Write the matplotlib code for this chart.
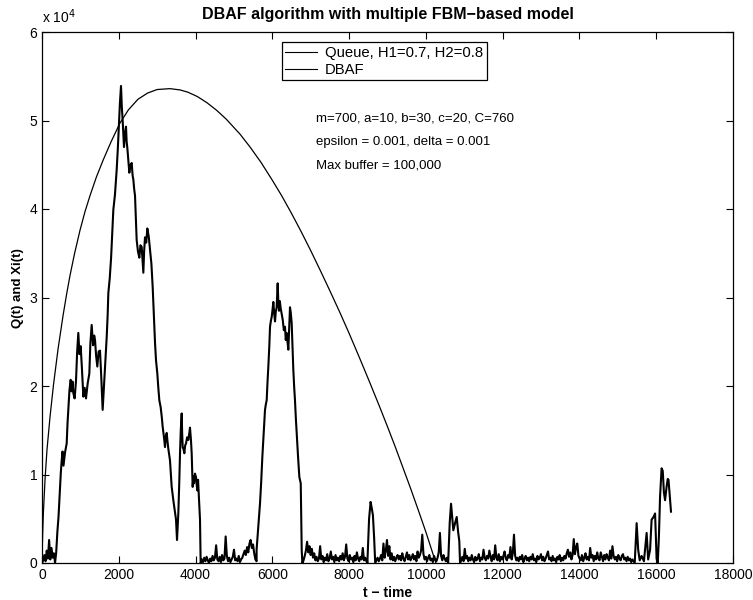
import numpy as np
import matplotlib.pyplot as plt

plt.rcParams['font.family'] = ['Liberation Sans', 'DejaVu Sans']
plt.rcParams['font.size'] = 10

# ---- DBAF curve ----
dbaf_t = [0, 15, 35, 80, 130, 210, 300, 420, 550, 640, 730, 850, 990, 1120, 1250,
          1420, 1600, 1800, 2030, 2250, 2500, 2750, 3000, 3335, 3600, 3800, 4050,
          4300, 4550, 4800, 5160, 5420, 5700, 6000, 6250, 6500, 6750, 7000, 7250,
          7500, 7750, 8000, 8250, 8500, 8800, 9000, 9200, 9400, 9600, 9800, 10000,
          10260]
dbaf_y = [0, 3000, 5600, 9500, 12800, 16560, 20160, 24240, 28000, 30350, 32500,
          35000, 37600, 39700, 41500, 43650, 45600, 47600, 49700, 51200, 52400,
          53100, 53500, 53600, 53450, 53200, 52700, 52000, 51150, 50150, 48450,
          47000, 45300, 43250, 41450, 39500, 37450, 35300, 33050, 30750, 28400,
          25950, 23400, 20800, 17600, 15400, 13150, 10800, 8450, 6000, 3500, 0]

# ---- Queue: large excursions ----
rise1_t = [340, 370, 400, 430, 470, 490, 513, 535, 560, 600, 643, 665, 686, 715,
           747, 770, 795, 816, 850, 886, 915, 946, 975, 1007, 1040, 1077, 1110,
           1146, 1190, 1233, 1260, 1294, 1330, 1360, 1381, 1410, 1441, 1475, 1511,
           1545, 1580, 1610, 1641, 1685, 1710, 1728, 1765, 1800, 1830, 1858, 1900,
           1945, 1975, 2006, 2030, 2058, 2080, 2101, 2120, 2136, 2160, 2188, 2205,
           2223, 2250, 2275, 2300, 2336, 2360, 2380, 2400, 2423, 2445, 2466, 2500,
           2536, 2565, 2597, 2620, 2640, 2660, 2683, 2715, 2744, 2780, 2813, 2850,
           2883, 2918, 2945, 2970, 3004, 3030, 3056, 3091, 3120, 3143, 3178, 3204,
           3225, 3248, 3270, 3291, 3334, 3360, 3378, 3400, 3421, 3455, 3491, 3505,
           3517, 3535, 3551, 3575, 3595, 3615, 3639, 3650, 3665, 3690, 3708, 3730,
           3751, 3780, 3812, 3835, 3855, 3880, 3899, 3912, 3925, 3945, 3960, 3985,
           4012, 4030, 4047, 4065, 4081, 4100, 4116, 4133]
rise1_y = [0, 1200, 3500, 5200, 8600, 10200, 11600, 12600, 11000, 12500, 13500,
           15800, 17300, 19500, 20700, 19400, 20500, 19200, 18600, 20600, 23800,
           26000, 23600, 24500, 22000, 18800, 19800, 18600, 20300, 21400, 24800,
           26900, 24600, 25700, 25200, 23400, 22200, 23900, 24000, 20900, 17300,
           19600, 22100, 25500, 28000, 30500, 32200, 34500, 37200, 39900, 41600,
           44400, 46800, 49700, 52000, 53900, 51500, 50000, 48300, 47000, 48500,
           49300, 47600, 46900, 45500, 44100, 44900, 45200, 43800, 43300, 42300,
           41500, 38800, 36500, 35200, 34500, 35900, 35700, 34100, 32800, 35200,
           36800, 36200, 37800, 36900, 35400, 33800, 31200, 27500, 24800, 22900,
           21400, 19800, 18400, 17600, 16500, 15400, 14200, 13100, 14200, 14700,
           13700, 12900, 11600, 9800, 8600, 7800, 7100, 6000, 4900, 3600, 2600,
           4200, 5600, 9000, 12400, 15000, 16900, 14800, 13100, 12800, 12400,
           13300, 13500, 14200, 13900, 14600, 15300, 13900, 12400, 10400, 8600,
           9800, 9000, 10100, 9700, 8800, 8200, 9400, 7900, 6300, 4900, 0]

rise2_t = [5590, 5630, 5680, 5710, 5740, 5775, 5809, 5830, 5853, 5875, 5896, 5920,
           5940, 5960, 5983, 6005, 6026, 6050, 6070, 6090, 6113, 6139, 6155, 6174,
           6195, 6217, 6245, 6270, 6300, 6330, 6350, 6374, 6395, 6417, 6440, 6460,
           6480, 6504, 6525, 6547, 6570, 6590, 6612, 6634, 6670, 6704, 6720, 6740,
           6765, 6782]
rise2_y = [1500, 3800, 6800, 9200, 12000, 14800, 17300, 17900, 18400, 20500, 22200,
           24400, 26700, 27300, 27800, 28600, 29500, 28100, 27300, 28400, 28900,
           31600, 29700, 28500, 29600, 28800, 28100, 27500, 26300, 26700, 25200,
           26000, 25000, 24100, 26800, 28900, 28300, 27100, 24400, 21800, 19800,
           18400, 16400, 14700, 12000, 9700, 9400, 9000, 1500, 0]

spike3_t = [8480, 8520, 8560, 8590, 8620, 8650, 8680]
spike3_y = [500, 5000, 6900, 6200, 5400, 3000, 0]

bump4_t = [10580, 10620, 10655, 10690, 10715, 10760, 10803, 10840, 10870, 10890]
bump4_y = [0, 4500, 6700, 5000, 3700, 4500, 5200, 3500, 2500, 0]

tail_t = [15440, 15490, 15530, 15570, 15620, 15680, 15720, 15750, 15790, 15840,
          15880, 15930, 15970, 16010, 16040, 16070, 16100, 16140, 16170, 16200,
          16230, 16270, 16300, 16320, 16360, 16385]
tail_y = [0, 4500, 1500, 300, 800, 200, 2000, 3400, 400, 1500, 4900, 5200, 5600,
          500, 0, 3000, 7500, 10700, 10400, 8000, 7100, 8600, 9500, 9400, 7200, 5800]

# ---- Queue: idle stretches near zero (values in hundreds) ----
noise_a = [0, 3, 9, 2, 14, 5, 26, 4, 17, 6, 11, 0]
noise_b = [0, 4, 1, 6, 2, 7, 3, 0, 5, 2, 8, 3, 6, 20, 4, 2, 7, 1, 9, 3,
           5, 30, 8, 2, 6, 1, 4, 7, 15, 3, 5, 2, 8, 1, 4, 6, 10, 14, 9, 18,
           12, 22, 26, 17, 21, 11, 4, 2]
noise_c = [0, 3, 8, 14, 24, 12, 19, 9, 16, 6, 11, 3, 7, 2, 5, 19, 4, 8, 1, 6,
           3, 10, 2, 5, 13, 4, 7, 1, 9, 3, 6, 2, 8, 4, 11, 3, 7, 21, 5, 2,
           9, 4, 6, 1, 8, 3, 12, 5, 2, 7, 4, 17, 3, 6, 2, 0]
noise_d = [0, 3, 6, 2, 5, 9, 3, 22, 6, 14, 26, 8, 19, 4, 11, 3, 7, 2, 6, 9,
           4, 8, 3, 11, 5, 2, 7, 12, 4, 9, 3, 6, 10, 4, 8, 2, 13, 6, 9, 14,
           32, 10, 4, 7, 2, 6, 9, 3, 5, 1, 8, 4, 2, 6, 12, 34, 8, 3, 9, 5,
           2, 6, 0]
noise_e = [0, 3, 7, 2, 16, 5, 8, 2, 6, 3, 9, 4, 1, 7, 3, 5, 10, 2, 6, 4,
           15, 6, 3, 8, 5, 14, 7, 2, 9, 4, 20, 6, 3, 10, 2, 7, 4, 8, 13, 5,
           3, 9, 6, 18, 4, 11, 32, 8, 3, 6, 2, 7, 4, 9, 1, 5, 8, 3, 6, 2,
           7, 4, 10, 3, 5, 1, 8, 4, 6, 10, 3, 7, 2, 5, 9, 13, 4, 6, 2, 8,
           3, 5, 1, 7, 4, 9, 2, 6, 3, 8, 5, 11, 15, 7, 12, 4, 9, 27, 10, 18,
           22, 8, 5, 3, 9, 2, 6, 11, 4, 7, 3, 17, 6, 9, 2, 8, 4, 12, 5, 3,
           12, 7, 2, 9, 4, 10, 6, 3, 14, 5, 19, 8, 4, 7, 2, 9, 5, 3, 8, 10,
           4, 6, 2, 7, 3, 5, 1, 4, 2, 0]


def idle(t0, t1, vals):
    return np.linspace(t0, t1, len(vals)), np.array(vals) * 100.0


parts = [idle(0, 340, noise_a),
         (rise1_t, rise1_y),
         idle(4133, 5590, noise_b),
         (rise2_t, rise2_y),
         idle(6782, 8480, noise_c),
         (spike3_t, spike3_y),
         idle(8680, 10580, noise_d),
         (bump4_t, bump4_y),
         idle(10890, 15440, noise_e),
         (tail_t, tail_y)]
queue_t = np.concatenate([np.asarray(p[0], float) for p in parts])
queue_y = np.concatenate([np.asarray(p[1], float) for p in parts])

fig = plt.figure(figsize=(7.53, 6.0), dpi=100)
ax = fig.add_axes([42 / 753, 37 / 600, 691 / 753, 531 / 600])

ax.plot(queue_t, queue_y, color='k', lw=1.5, label='Queue, H1=0.7, H2=0.8')
ax.plot(dbaf_t, dbaf_y, color='k', lw=0.9, label='DBAF')

ax.set_xlim(0, 18000)
ax.set_ylim(0, 60000)
ax.set_xticks(np.arange(0, 18001, 2000))
ax.set_yticks(np.arange(0, 60001, 10000))
ax.set_yticklabels([str(i) for i in range(7)])
ax.tick_params(direction='in', top=True, right=True, length=5, labelsize=10)
for s in ax.spines.values():
    s.set_linewidth(0.9)

ax.text(0, 1.012, r'x 10$^4$', transform=ax.transAxes, fontsize=10,
        ha='left', va='bottom')

ax.set_title('DBAF algorithm with multiple FBM\u2212based model',
             fontweight='bold', fontsize=11.5, pad=9)
ax.set_xlabel('t \u2212 time', fontweight='bold', fontsize=10, labelpad=3)
ax.set_ylabel('Q(t) and Xi(t)', fontweight='bold', fontsize=9.5)
ax.yaxis.set_label_coords(-0.026, 0.518)

leg = ax.legend(loc='upper left', bbox_to_anchor=(0.347, 0.981), fancybox=False,
                edgecolor='k', framealpha=1, borderaxespad=0, handlelength=2.1,
                handletextpad=0.55, labelspacing=0.2, borderpad=0.25, fontsize=10.7)
leg.get_frame().set_linewidth(0.9)
for h in leg.get_lines():
    h.set_linewidth(0.8)

ax.text(0.397, 0.838, 'm=700, a=10, b=30, c=20, C=760', transform=ax.transAxes,
        va='center', fontsize=9.5)
ax.text(0.397, 0.793, 'epsilon = 0.001, delta = 0.001', transform=ax.transAxes,
        va='center', fontsize=9.5)
ax.text(0.397, 0.748, 'Max buffer = 100,000', transform=ax.transAxes,
        va='center', fontsize=9.5)

fig.savefig('out.png', dpi=100)
